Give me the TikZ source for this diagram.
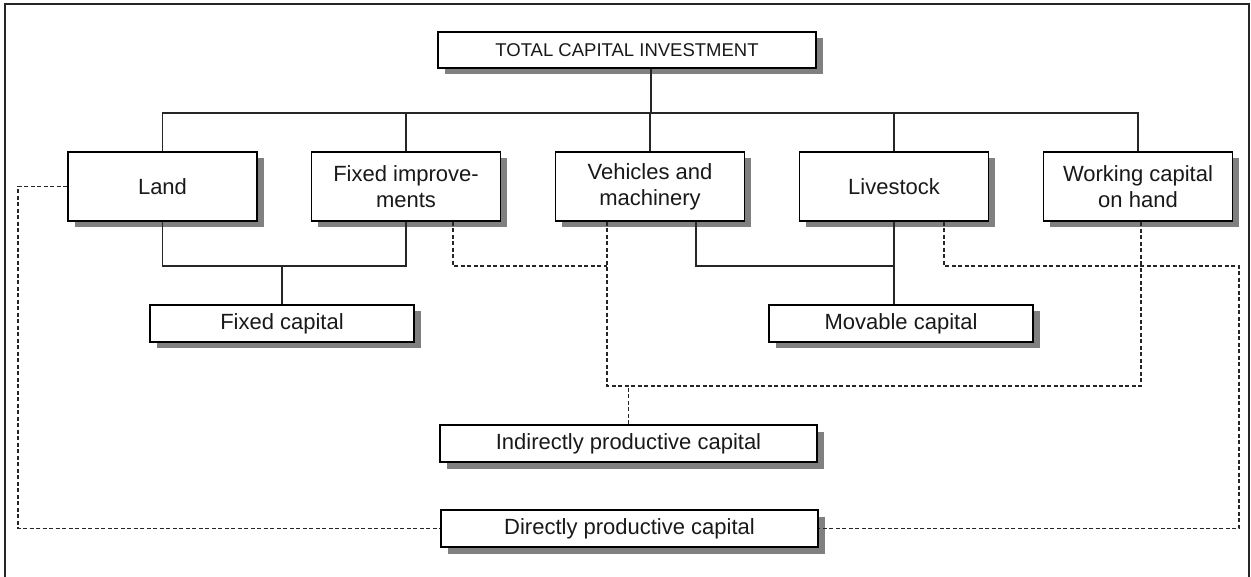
\documentclass[tikz,border=0pt]{standalone}
\usepackage{fontspec}
\setmainfont{Liberation Sans}
\usetikzlibrary{shadows}
\begin{document}
\begin{tikzpicture}[x=1pt,y=-1pt,
  box/.style={draw=black, line width=1.5pt, fill=white, rectangle, inner sep=0pt,
    align=center, font=\fontsize{22}{26}\selectfont, text=black!90,
    drop shadow={shadow xshift=6.5pt, shadow yshift=-6.5pt, fill=black!50, opacity=1}},
  topbox/.style={box, font=\fontsize{18.5}{22}\selectfont},
  rowbox/.style={box, minimum width=189pt, minimum height=69pt},
  lowbox/.style={box, minimum height=37pt},
  conn/.style={line width=1.3pt, black!85},
  dconn/.style={line width=1.3pt, black!85, dash pattern=on 4pt off 2.5pt}
]
\useasboundingbox (0,0) rectangle (1251,577);
% frame
\draw[line width=1.5pt, black!85] (5,580) -- (5,4) -- (1249,4) -- (1249,580);

% nodes
\node[topbox, minimum width=378pt, minimum height=36pt] (top) at (627,50) {TOTAL CAPITAL INVESTMENT};
\node[rowbox] (land) at (162.5,186.5) {Land};
\node[rowbox] (fi)   at (406,186.5) {Fixed improve-\\ments};
\node[rowbox] (veh)  at (650,186.5) {Vehicles and\\machinery};
\node[rowbox] (live) at (894,186.5) {Livestock};
\node[rowbox] (work) at (1138,186.5) {Working capital\\on hand};
\node[lowbox, minimum width=264pt] (fixed) at (282,323.5) {Fixed capital};
\node[lowbox, minimum width=264pt] (mov)   at (901,323.5) {Movable capital};
\node[lowbox, minimum width=377pt] (ind)   at (628.5,443.5) {Indirectly productive capital};
\node[lowbox, minimum width=377pt] (dir)   at (629.5,528.5) {Directly productive capital};

% helper coordinates
\coordinate (bus) at (0,113);
\coordinate (trunk) at (651,0);
\coordinate (fbus) at (0,266);
\coordinate (ibus) at (0,386);
\coordinate (vm) at (696,0);
\coordinate (fid) at (453,0);
\coordinate (vd) at (607,0);
\coordinate (wd) at (1141,0);
\coordinate (ld) at (944,0);
\coordinate (rd) at (1239,0);
\coordinate (lfd) at (18,0);

% solid connectors
\draw[conn] (top.south -| trunk) -- (trunk |- bus);
\draw[conn] (land.north) -- (land.north |- bus) -- (work.north |- bus) -- (work.north);
\draw[conn] (fi.north) -- (fi.north |- bus);
\draw[conn] (veh.north) -- (veh.north |- bus);
\draw[conn] (live.north) -- (live.north |- bus);
\draw[conn] (land.south) -- (land.south |- fbus) -- (fi.south |- fbus) -- (fi.south);
\draw[conn] (fixed.north) -- (fixed.north |- fbus);
\draw[conn] (veh.south -| vm) -- (vm |- fbus) -- (live.south |- fbus);
\draw[conn] (live.south) -- (live.south |- mov.north);

% dashed connectors
\draw[dconn] (fi.south -| fid) -- (fid |- fbus) -- (vd |- fbus);
\draw[dconn] (veh.south -| vd) -- (vd |- ibus) -- (wd |- ibus) -- (work.south -| wd);
\draw[dconn] (ind.north) -- (ind.north |- ibus);
\draw[dconn] (live.south -| ld) -- (ld |- fbus) -- (rd |- fbus) -- (rd |- dir.east) -- (dir.east);
\draw[dconn] (land.west) -- (lfd |- land.west) -- (lfd |- dir.west) -- (dir.west);
\end{tikzpicture}
\end{document}
